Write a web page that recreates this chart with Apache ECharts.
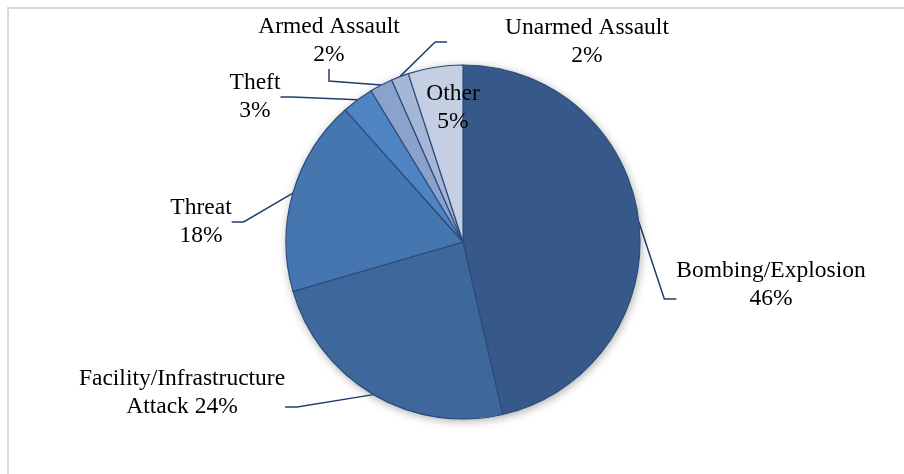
<!DOCTYPE html>
<html>
<head>
<meta charset="utf-8">
<script src="https://cdn.jsdelivr.net/npm/echarts@6/dist/echarts.min.js"></script>
<style>
  html, body { margin: 0; padding: 0; background: #fff; }
  #chart { width: 904px; height: 474px; }
</style>
</head>
<body>
<div id="chart"></div>
<script>
// attack types, clockwise from 12 o'clock
var categories = ['Bombing/Explosion', 'Facility/Infrastructure Attack', 'Threat', 'Theft',
  'Armed Assault', 'Unarmed Assault', 'Other'];
// share of incidents (%)
var shares = [46.4, 24.1, 17.9, 2.9, 2.1, 1.6, 5.0];
// label text before the percentage
var labelText = ['Bombing/Explosion\n', 'Facility/Infrastructure\nAttack ', 'Threat\n', 'Theft\n',
  'Armed Assault\n', 'Unarmed Assault\n', 'Other\n'];

var colors = ['#36598a', '#3e679b', '#4676b0', '#4e83c4', '#8ba2ca', '#a6b6d6', '#c4cfe4'];
// centre of each label box
var labelPos = [[771, 299], [182, 407], [201, 222], [255, 97], [329, 41], [558, 42], [453, 108]];
// a blank third line drops the leader line onto the second line of text
var labelTail = ['\n ', '\n ', '', '', '', '', ''];

var myChart = echarts.init(document.getElementById('chart'));

var data = categories.map(function (name, i) {
  var item = { name: name, value: shares[i], itemStyle: { color: colors[i] } };
  if (name === 'Other') {
    item.labelLine = { show: false };
  }
  if (name === 'Unarmed Assault') {
    // pad the label box so the leader line stops short of the text
    item.label = { padding: [0, 0, 0, 58] };
  }
  return item;
});

var option = {
  animation: false,
  graphic: [{
    type: 'rect',
    shape: { x: 8, y: 8, width: 1200, height: 1200 },
    style: { fill: 'none', stroke: '#d9d9d9', lineWidth: 2 },
    silent: true
  }],
  series: [
    {
      // soft shadow under the pie
      type: 'pie',
      silent: true,
      center: [463, 242],
      radius: 177,
      label: { show: false },
      labelLine: { show: false },
      itemStyle: { color: '#fff', shadowBlur: 10, shadowColor: 'rgba(0,0,0,0.35)', shadowOffsetX: 1, shadowOffsetY: 2 },
      data: [1]
    },
    {
      type: 'pie',
      center: [463, 242],
      radius: 177,
      startAngle: 90,
      clockwise: true,
      avoidLabelOverlap: false,
      itemStyle: { borderColor: '#2a4c7c', borderWidth: 1.2 },
      label: {
        show: true,
        position: 'outside',
        fontFamily: 'Liberation Serif',
        fontSize: 23.5,
        lineHeight: 28,
        color: '#000',
        formatter: function (p) {
          return labelText[p.dataIndex] + Math.round(p.value) + '%' + labelTail[p.dataIndex];
        }
      },
      labelLine: {
        show: true,
        length: 10,
        length2: 12,
        lineStyle: { color: '#1f3f6f', width: 1.5 }
      },
      labelLayout: function (params) {
        var pos = labelPos[params.dataIndex];
        return { x: pos[0], y: pos[1], align: 'center', verticalAlign: 'middle' };
      },
      data: data
    }
  ]
};

myChart.setOption(option);
window.onresize = myChart.resize;
</script>
</body>
</html>
